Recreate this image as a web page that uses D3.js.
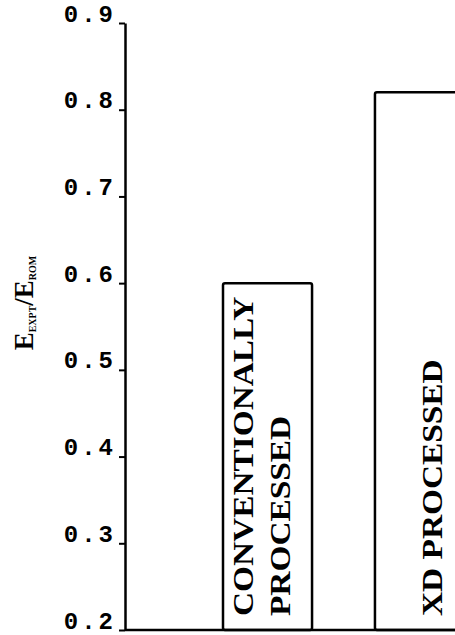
<!DOCTYPE html>
<html>
<head>
<meta charset="utf-8">
<script src="https://cdn.jsdelivr.net/npm/d3@7"></script>
<style>
  body { margin: 0; background: #fff; }
  svg { display: block; }
</style>
</head>
<body>
<div id="chart"></div>
<script>
// chart data
var categories = ["conv", "xd"],
	values     = [0.60, 0.82],
	barLabels  = [["CONVENTIONALLY", "PROCESSED"], ["XD PROCESSED"]],
	yTicks     = [0.2, 0.3, 0.4, 0.5, 0.6, 0.7, 0.8, 0.9];

var w = 455,
	h = 635,
	axisX = 125,
	stretch = 1.15, // the scan uses a wide bold face
	serif = "'Liberation Serif', 'Times New Roman', serif";

var svg = d3.select("#chart").append("svg")
	.attr("width", w)
	.attr("height", h)
	.style("background-color", "#fff");

var y = d3.scaleLinear()
	.domain([0.2, 0.9])
	.range([630, 23]);

var x = d3.scaleBand()
	.domain(categories)
	.range([223, 464])
	.paddingInner(0.414)
	.paddingOuter(0);

// bars
var bars = svg.selectAll(".bar")
	.data(categories)
	.enter()
	.append("g")
	.attr("class", "bar");

bars.append("rect")
	.attr("x", function(d) { return x(d); })
	.attr("y", function(d, i) { return y(values[i]); })
	.attr("width", x.bandwidth())
	.attr("height", function(d, i) { return y(0.2) - y(values[i]); })
	.attr("rx", 2)
	.attr("fill", "#fff")
	.attr("stroke", "#000")
	.attr("stroke-width", 2.5);

// labels inside bars, rotated, last line sits at the same spot in every bar
bars.each(function(d, i) {
	var lines = barLabels[i],
		g = d3.select(this);
	lines.forEach(function(t, j) {
		var cx = x(d) + x.bandwidth() * 0.64 - (lines.length - 1 - j) * 37;
		var lab = g.append("text")
			.attr("transform", "translate(" + (cx + 10) + "," + (y(0.2) - 14) + ") rotate(-90)")
			.attr("text-anchor", "start")
			.style("font-family", serif)
			.style("font-weight", "bold")
			.style("font-size", "29px")
			.text(t);
		var len = lab.node().getComputedTextLength();
		lab.attr("textLength", len * stretch)
			.attr("lengthAdjust", "spacingAndGlyphs");
	});
});

// baseline
svg.append("line")
	.attr("x1", axisX)
	.attr("x2", w)
	.attr("y1", y(0.2))
	.attr("y2", y(0.2))
	.attr("stroke", "#000")
	.attr("stroke-width", 2.5);

// y axis
var yAxis = d3.axisLeft(y)
	.tickValues(yTicks)
	.tickSize(6)
	.tickSizeOuter(0)
	.tickFormat(d3.format(".1f"));

var gy = svg.append("g")
	.attr("transform", "translate(" + axisX + ",0)")
	.call(yAxis);

gy.select(".domain").attr("stroke-width", 2.5);
gy.selectAll(".tick line").attr("stroke-width", 2);
gy.selectAll(".tick text")
	.attr("x", -9)
	.attr("dy", "-0.08em")
	.style("font-family", "'Liberation Mono', 'DejaVu Sans Mono', monospace")
	.style("font-weight", "bold")
	.style("font-size", "24px")
	.style("letter-spacing", "3px")
	.attr("fill", "#000");

// y axis title E_EXPT / E_ROM
var title = svg.append("text")
	.attr("transform", "translate(33,303) rotate(-90)")
	.attr("text-anchor", "middle")
	.style("font-family", serif)
	.style("font-weight", "bold")
	.style("font-size", "27px");

title.append("tspan").text("E");
title.append("tspan").attr("dy", 3).style("font-size", "10px").text("EXPT");
title.append("tspan").attr("dy", -3).text("/E");
title.append("tspan").attr("dy", 3).style("font-size", "10px").text("ROM");
</script>
</body>
</html>
